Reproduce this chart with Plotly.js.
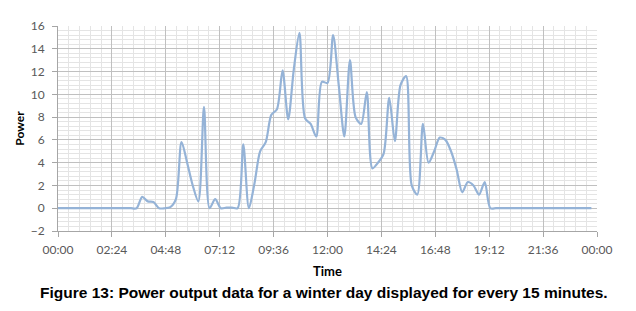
<!DOCTYPE html>
<html>
<head>
<meta charset="utf-8">
<script src="https://cdn.plot.ly/plotly-3.0.1.min.js"></script>
<style>html,body{margin:0;padding:0;background:#fff;}#chart{width:636px;height:311px;}</style>
</head>
<body>
<div id="chart"></div>
<script>
const times = [
"00:00","00:15","00:30","00:45","01:00","01:15","01:30","01:45",
"02:00","02:15","02:30","02:45","03:00","03:15","03:30","03:45",
"04:00","04:15","04:30","04:45","05:00","05:15","05:30","05:45",
"06:00","06:15","06:30","06:45","07:00","07:15","07:30","07:45",
"08:00","08:15","08:30","08:45","09:00","09:15","09:30","09:45",
"10:00","10:15","10:30","10:45","11:00","11:15","11:30","11:45",
"12:00","12:15","12:30","12:45","13:00","13:15","13:30","13:45",
"14:00","14:15","14:30","14:45","15:00","15:15","15:30","15:45",
"16:00","16:15","16:30","16:45","17:00","17:15","17:30","17:45",
"18:00","18:15","18:30","18:45","19:00","19:15","19:30","19:45",
"20:00","20:15","20:30","20:45","21:00","21:15","21:30","21:45",
"22:00","22:15","22:30","22:45","23:00","23:15","23:30","23:45"];

const power = [
0,0,0,0,0,0,0,0,
0,0,0,0,0,0,0,1.0,
0.6,0.55,0,0,0.1,0.8,5.8,4.0,
2.0,0.6,8.9,0,0.8,0,0.05,0.05,
0,5.6,0,2.2,5.0,5.8,8.2,8.7,
12.1,7.8,12.2,15.4,7.9,7.4,6.3,11.1,
11.0,15.2,10.8,6.3,13.0,8.0,7.4,10.2,
3.5,4.0,4.8,9.7,5.9,10.8,11.6,2.0,
1.2,7.4,4.0,5.0,6.2,6.0,5.0,3.4,
1.4,2.3,2.0,1.2,2.3,0,0,0,
0,0,0,0,0,0,0,0,
0,0,0,0,0,0,0,0];

const xTickLabels = ["00:00","02:24","04:48","07:12","09:36","12:00","14:24","16:48","19:12","21:36","00:00"];

const day = "2024-01-01 ";
const xs = times.map(t => day + t);

const tickFont = {family: "Lato, 'Open Sans', sans-serif", size: 12, color: "#595959"};

const trace = {
  x: xs, y: power, type: "scatter", mode: "lines",
  line: {color: "#95b3d7", width: 2.2, shape: "spline", smoothing: 0.8},
  hoverinfo: "skip"
};

const layout = {
  width: 636, height: 311,
  margin: {l: 58, r: 39, t: 26, b: 80},
  paper_bgcolor: "#ffffff", plot_bgcolor: "#ffffff",
  showlegend: false,
  xaxis: {
    type: "date",
    range: ["2024-01-01 00:00", "2024-01-02 00:00"],
    tick0: "2024-01-01 00:00",
    dtick: 8640000,
    tickformat: "%H:%M",
    tickfont: tickFont,
    ticks: "outside", ticklen: 5, tickcolor: "#a6a6a6",
    ticklabelstandoff: 3,
    showgrid: true, gridcolor: "#c0c0c0", gridwidth: 1,
    minor: {dtick: 1728000, showgrid: true, gridcolor: "#e4e4e4", gridwidth: 1, ticks: ""},
    showline: true, linecolor: "#a6a6a6", linewidth: 1,
    zeroline: false, fixedrange: true
  },
  yaxis: {
    range: [-2, 16],
    dtick: 2, tick0: 0,
    tickfont: tickFont,
    ticks: "outside", ticklen: 5, tickcolor: "#a6a6a6",
    ticklabelstandoff: 5,
    showgrid: true, gridcolor: "#c0c0c0", gridwidth: 1,
    minor: {dtick: 0.4, showgrid: true, gridcolor: "#e4e4e4", gridwidth: 1, ticks: ""},
    showline: true, linecolor: "#a6a6a6", linewidth: 1,
    zeroline: false, fixedrange: true
  },
  annotations: [
    {text: "<b>Power</b>", textangle: -90, xref: "paper", yref: "paper",
     x: -0.072, y: 0.50, xanchor: "center", yanchor: "middle", showarrow: false,
     font: {family: "Lato, 'Open Sans', sans-serif", size: 12, color: "#000"}},
    {text: "<b>Time</b>", xref: "paper", yref: "paper",
     x: 0.5, y: -0.195, xanchor: "center", yanchor: "middle", showarrow: false,
     font: {family: "Lato, 'Open Sans', sans-serif", size: 13, color: "#000"}},
    {text: "<b>Figure 13: Power output data for a winter day displayed for every 15 minutes.</b>",
     xref: "paper", yref: "paper", x: 0.4935, y: -0.302, xanchor: "center", yanchor: "middle", showarrow: false,
     font: {family: "'Liberation Sans', Arial, sans-serif", size: 15.5, color: "#000"}}
  ]
};

Plotly.newPlot("chart", [trace], layout, {staticPlot: true, displayModeBar: false});
</script>
</body>
</html>
